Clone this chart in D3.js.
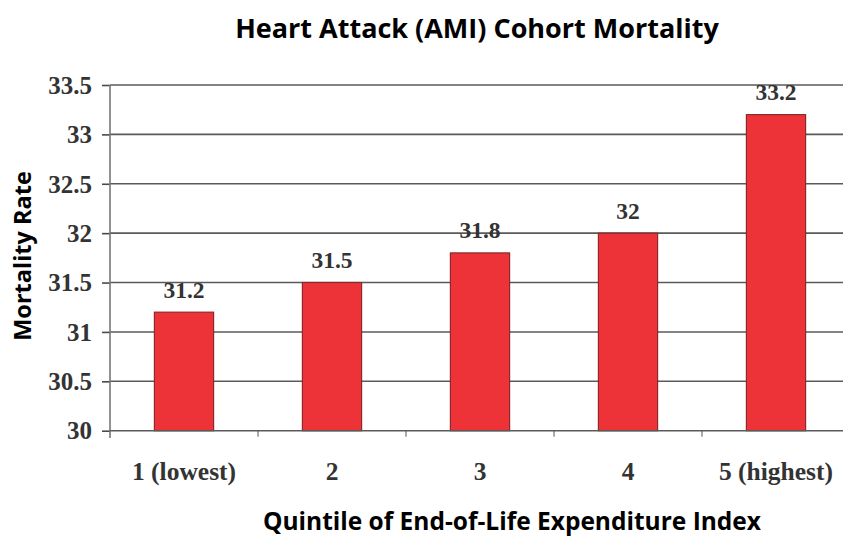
<!DOCTYPE html>
<html><head><meta charset="utf-8">
<script src="https://cdn.jsdelivr.net/npm/d3@7"></script>
<style>body{margin:0;background:#fff}svg{display:block}</style>
</head><body><svg id="c" width="843" height="540"></svg>
<script>
const categories = ["1 (lowest)", "2", "3", "4", "5 (highest)"];
const values = [31.2, 31.5, 31.8, 32, 33.2];
const valueLabels = ["31.2", "31.5", "31.8", "32", "33.2"];
const yTicks = [30, 30.5, 31, 31.5, 32, 32.5, 33, 33.5];
const yTickLabels = ["30", "30.5", "31", "31.5", "32", "32.5", "33", "33.5"];

const svg = d3.select("#c");
const serif = "'Liberation Serif','Times New Roman',serif";
const sans = "'Open Sans','Noto Sans',sans-serif";

const x = d3.scaleBand().domain(categories).range([110, 850]).padding(0);
const y = d3.scaleLinear().domain([30, 33.5]).range([430.7, 85]);

// gridlines
svg.append("g").selectAll("line").data(yTicks.slice(1)).join("line")
  .attr("x1", 110).attr("x2", 843)
  .attr("y1", d => y(d)).attr("y2", d => y(d))
  .attr("stroke", "#5a5a5a").attr("stroke-width", 1.6);

// y axis
const yAxis = d3.axisLeft(y).tickValues(yTicks)
  .tickFormat((d, i) => yTickLabels[i]).tickSize(8).tickPadding(10);
const gy = svg.append("g").attr("transform", "translate(110,0)").call(yAxis);
gy.select(".domain").remove();
gy.selectAll(".tick line").attr("stroke", "#4a4a4a").attr("stroke-width", 1.6);
gy.selectAll(".tick text").attr("font-family", serif).attr("font-weight", "bold")
  .attr("font-size", 25).attr("fill", "#333").attr("dy", "0.33em");
svg.append("line").attr("x1", 110).attr("x2", 110).attr("y1", 85).attr("y2", 438)
  .attr("stroke", "#777").attr("stroke-width", 1.6);

// bars
const bw = x.bandwidth() * 0.4;
svg.append("g").selectAll("rect").data(values).join("rect")
  .attr("x", (d, i) => x(categories[i]) + x.bandwidth() / 2 - bw / 2)
  .attr("width", bw)
  .attr("y", d => y(d))
  .attr("height", d => y(30) - y(d))
  .attr("fill", "#ee3338").attr("stroke", "#8a2a2a").attr("stroke-width", 1.2);

// value labels
svg.append("g").selectAll("text").data(values).join("text")
  .attr("x", (d, i) => x(categories[i]) + x.bandwidth() / 2)
  .attr("y", d => y(d) - 14.5)
  .attr("text-anchor", "middle")
  .attr("font-family", serif).attr("font-weight", "bold").attr("font-size", 23.5)
  .attr("fill", "#333")
  .text((d, i) => valueLabels[i]);

// x axis
svg.append("line").attr("x1", 110).attr("x2", 843).attr("y1", y(30)).attr("y2", y(30))
  .attr("stroke", "#5a5a5a").attr("stroke-width", 1.6);
svg.append("g").selectAll("line").data(categories.slice(1)).join("line")
  .attr("x1", d => x(d)).attr("x2", d => x(d))
  .attr("y1", y(30)).attr("y2", y(30) + 6)
  .attr("stroke", "#555").attr("stroke-width", 1);
svg.append("g").selectAll("text").data(categories).join("text")
  .attr("x", d => x(d) + x.bandwidth() / 2)
  .attr("y", 480)
  .attr("text-anchor", "middle")
  .attr("font-family", serif).attr("font-weight", "bold").attr("font-size", 25.5)
  .attr("fill", "#333")
  .text(d => d);

// titles
svg.append("text").attr("x", 477).attr("y", 38).attr("text-anchor", "middle")
  .attr("font-family", sans).attr("font-weight", "bold").attr("font-size", 27)
  .attr("fill", "#000").text("Heart Attack (AMI) Cohort Mortality");
svg.append("text").attr("x", 512).attr("y", 530).attr("text-anchor", "middle")
  .attr("font-family", sans).attr("font-weight", "bold").attr("font-size", 24.5)
  .attr("fill", "#000").text("Quintile of End-of-Life Expenditure Index");
svg.append("text").attr("transform", "translate(31,256) rotate(-90)").attr("text-anchor", "middle")
  .attr("font-family", sans).attr("font-weight", "bold").attr("font-size", 23.5)
  .attr("fill", "#000").text("Mortality Rate");
</script></body></html>
